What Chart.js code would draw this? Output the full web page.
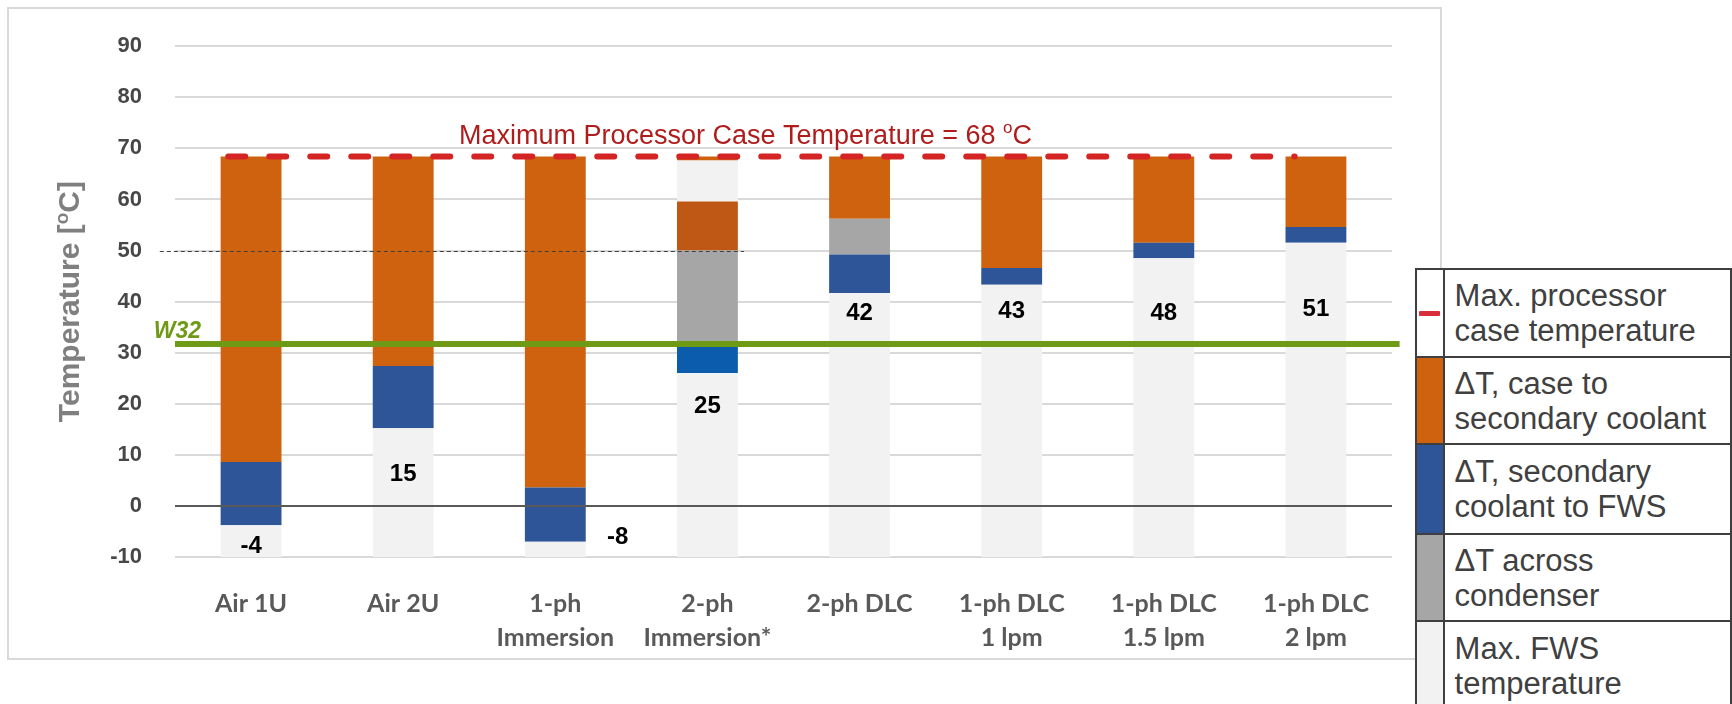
<!DOCTYPE html>
<html>
<head>
<meta charset="utf-8">
<script src="https://cdn.jsdelivr.net/npm/chart.js@4.4.1/dist/chart.umd.min.js"></script>
<style>
  html, body { margin: 0; padding: 0; background: #fff; overflow: hidden; }
  #wrap { position: relative; width: 1732px; height: 704px; overflow: hidden; }
  #frame { position: absolute; left: 7px; top: 7px; width: 1431px; height: 649px; border: 2px solid #D9D9D9; }
  #chart { position: absolute; left: 0; top: 0; }
  #legend { position: absolute; left: 1415px; top: 268px; border-collapse: collapse; background: #fff;
            font-family: 'Liberation Sans', Arial, sans-serif; font-size: 31px; line-height: 35px; color: #404040; }
  #legend td { border: 2px solid #3F3F3F; padding: 0; }
  #legend td.sw { width: 38px; }
  #legend td.tx { width: 340px; padding-left: 10px; white-space: nowrap; }
  .dash { width: 21px; height: 5px; background: #D92D3A; margin: 0 auto; border-radius: 1px; }
</style>
</head>
<body>
<div id="wrap">
  <div id="frame"></div>
  <canvas id="chart" width="1732" height="704"></canvas>
  <table id="legend">
    <tr style="height:88px"><td class="sw"><div class="dash"></div></td><td class="tx">Max. processor<br>case temperature</td></tr>
    <tr style="height:87px"><td class="sw" style="background:#CF620E"></td><td class="tx">ΔT, case to<br>secondary coolant</td></tr>
    <tr style="height:90px"><td class="sw" style="background:#2E5597"></td><td class="tx">ΔT, secondary<br>coolant to FWS</td></tr>
    <tr style="height:87px"><td class="sw" style="background:#A6A6A6"></td><td class="tx">ΔT across<br>condenser</td></tr>
    <tr style="height:90px"><td class="sw" style="background:#F2F2F2"></td><td class="tx">Max. FWS<br>temperature</td></tr>
  </table>
</div>
<script>
// --- DATA ---
const categories = [['Air 1U'], ['Air 2U'], ['1-ph', 'Immersion'], ['2-ph', 'Immersion*'], ['2-ph DLC'],
                    ['1-ph DLC', '1 lpm'], ['1-ph DLC', '1.5 lpm'], ['1-ph DLC', '2 lpm']];
const Y_MIN = -10, Y_MAX = 90, Y_STEP = 10;
const MAX_CASE = 68;          // value quoted in the annotation
const MAX_CASE_LINE = 68.4;   // where the dashed line / bar tops sit
const W32_TEMP = 31.7;
const REF_TEMP = 50;

// boundaries of each stacked segment (degC)
const fwsTemp       = [-3.8, 15.2, -7.0, 26.0, 41.7, 43.3, 48.5, 51.5];
const coolantTemp   = [8.6, 27.4, 3.6, 31.3, 49.2, 46.6, 51.5, 54.6];
const condenserTemp = [null, null, null, 50.0, 56.2, null, null, null];
const vaporTemp     = [null, null, null, 59.6, null, null, null, null];
const gapTemp       = [null, null, null, 67.6, null, null, null, null];
const caseTemp      = [68.4, 68.4, 68.4, 68.4, 68.4, 68.4, 68.4, 68.4];

const fwsLabels     = ['-4', '15', '-8', '25', '42', '43', '48', '51'];
const fwsLabelAt    = [-7.9, 6.2, -6.2, 19.5, 37.6, 38.0, 37.6, 38.4];
const fwsLabelShift = [0, 0, 0.41, 0, 0, 0, 0, 0];

// --- BUILD ---
const range = (lo, hi) => lo.map((l, i) => (l == null || hi[i] == null) ? null : [l, hi[i]]);
const floor = categories.map(() => Y_MIN);
const caseBase = caseTemp.map((_, i) => gapTemp[i] ?? condenserTemp[i] ?? coolantTemp[i]);
const coolantColors = categories.map((_, i) => vaporTemp[i] != null ? '#0B5CAD' : '#2E5597');

const TXT = "'Liberation Sans', Arial, sans-serif";

function hline(ctx, x1, x2, y, color, w) {
    ctx.strokeStyle = color;
    ctx.lineWidth = w;
    ctx.beginPath();
    ctx.moveTo(x1, y);
    ctx.lineTo(x2, y);
    ctx.stroke();
}

// text with a superscript "o" before the last C
function supText(ctx, cx, y, before, sup, after, size, align) {
    ctx.textBaseline = 'alphabetic';
    ctx.textAlign = 'left';
    const f = ctx.font;
    const small = f.replace(size + 'px', Math.round(size * 0.62) + 'px');
    const w1 = ctx.measureText(before).width;
    ctx.font = small;
    const w2 = ctx.measureText(sup).width;
    ctx.font = f;
    const w3 = ctx.measureText(after).width;
    const x = align === 'center' ? cx - (w1 + w2 + w3) / 2 : cx;
    ctx.fillText(before, x, y);
    ctx.font = small;
    ctx.fillText(sup, x + w1, y - size * 0.38);
    ctx.font = f;
    ctx.fillText(after, x + w1 + w2, y);
}

const overlay = {
    id: 'overlay',
    afterDatasetsDraw(chart) {
        const { ctx, chartArea: a, scales: { x, y } } = chart;
        ctx.save();
        // zero line
        hline(ctx, a.left, a.right, Math.round(y.getPixelForValue(0)), '#595959', 2);
        // thin dashed 50 reference
        ctx.setLineDash([4, 3]);
        hline(ctx, x.getPixelForValue(-0.6), x.getPixelForValue(3.24), Math.round(y.getPixelForValue(REF_TEMP)) + 0.5, '#404040', 1.2);
        ctx.setLineDash([]);
        // W32 line
        const gy = y.getPixelForValue(W32_TEMP);
        hline(ctx, x.getPixelForValue(-0.5), x.getPixelForValue(7.55), gy, '#6F9A15', 6);
        ctx.fillStyle = '#6F9A15';
        ctx.font = 'italic bold 23px ' + TXT;
        ctx.textAlign = 'left';
        ctx.textBaseline = 'alphabetic';
        ctx.fillText('W32', x.getPixelForValue(-0.64), gy - 6);
        // max case temperature line
        const ry = y.getPixelForValue(MAX_CASE_LINE);
        ctx.setLineDash([17, 24]);
        ctx.lineCap = 'round';
        hline(ctx, x.getPixelForValue(-0.15), x.getPixelForValue(6.86), ry, '#D42424', 6);
        ctx.setLineDash([]);
        ctx.lineCap = 'butt';
        ctx.fillStyle = '#B01C1C';
        ctx.font = '27px ' + TXT;
        supText(ctx, x.getPixelForValue(3.25), ry - 13, 'Maximum Processor Case Temperature = ' + MAX_CASE + ' ', 'o', 'C', 27, 'center');
        // FWS value labels
        ctx.fillStyle = '#000';
        ctx.font = 'bold 24px ' + TXT;
        ctx.textAlign = 'center';
        ctx.textBaseline = 'middle';
        fwsLabels.forEach((t, i) => {
            ctx.fillText(t, x.getPixelForValue(i + fwsLabelShift[i]), y.getPixelForValue(fwsLabelAt[i]));
        });
        // y axis title
        ctx.translate(68, (a.top + a.bottom) / 2);
        ctx.rotate(-Math.PI / 2);
        ctx.fillStyle = '#7F7F7F';
        ctx.font = 'bold 30px ' + TXT;
        supText(ctx, 0, 11, 'Temperature [', 'o', 'C]', 30, 'center');
        ctx.restore();
    }
};

const seg = (label, data, color) => ({ label, data, backgroundColor: color, borderWidth: 0,
                                       barPercentage: 0.4, categoryPercentage: 1 });

new Chart(document.getElementById('chart'), {
    type: 'bar',
    data: {
        labels: categories,
        datasets: [
            seg('Max. FWS temperature', range(floor, fwsTemp), '#F2F2F2'),
            seg('ΔT, secondary coolant to FWS', range(fwsTemp, coolantTemp), coolantColors),
            seg('ΔT across condenser', range(coolantTemp, condenserTemp), '#A6A6A6'),
            seg('2-ph vapor', range(condenserTemp, vaporTemp), '#BF5715'),
            seg('2-ph gap', range(vaporTemp, gapTemp), '#F2F2F2'),
            seg('ΔT, case to secondary coolant', range(caseBase, caseTemp), '#CF620E')
        ]
    },
    options: {
        responsive: false,
        animation: false,
        devicePixelRatio: 1,
        layout: { padding: { top: 32, right: 340, left: 0, bottom: 0 } },
        plugins: { legend: { display: false }, tooltip: { enabled: false } },
        scales: {
            x: {
                stacked: true,
                grid: { display: false },
                border: { display: false },
                ticks: { color: '#595959', padding: 22, maxRotation: 0, autoSkip: false,
                         font: { family: 'Lato', weight: 'bold', size: 25, lineHeight: 1.36 } },
                afterFit: s => { s.height = 147; }
            },
            y: {
                min: Y_MIN, max: Y_MAX,
                grid: { color: '#D9D9D9', lineWidth: 2, drawTicks: false },
                border: { display: false },
                ticks: { stepSize: Y_STEP, color: '#474747', padding: 33,
                         font: { family: TXT, weight: 'bold', size: 22 } },
                afterFit: s => { s.width = 175; }
            }
        }
    },
    plugins: [overlay]
});
</script>
</body>
</html>
